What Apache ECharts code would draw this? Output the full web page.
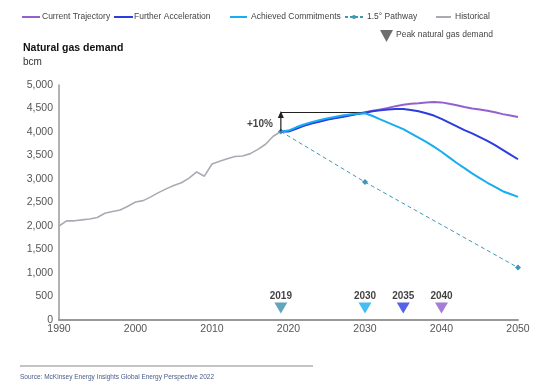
<!DOCTYPE html>
<html><head><meta charset="utf-8">
<script src="https://cdn.jsdelivr.net/npm/echarts@6/dist/echarts.min.js"></script>
<style>html,body{margin:0;padding:0;background:#fff}#c{width:560px;height:385px}</style>
</head><body><div id="c"></div>
<script>
const histYears = [1990,1991,1992,1993,1994,1995,1996,1997,1998,1999,2000,2001,2002,2003,2004,2005,2006,2007,2008,2009,2010,2011,2012,2013,2014,2015,2016,2017,2018,2019];
const historical = [2000,2110,2110,2130,2150,2180,2270,2310,2340,2420,2510,2540,2620,2710,2790,2860,2920,3020,3150,3060,3320,3380,3430,3480,3490,3540,3630,3740,3910,4010];
const projYears = [2019,2020,2021,2022,2023,2024,2025,2026,2027,2028,2029,2030,2031,2032,2033,2034,2035,2036,2037,2038,2039,2040,2041,2042,2043,2044,2045,2046,2047,2048,2049,2050];
const currentTrajectory = [4010,4020,4080,4140,4190,4230,4270,4300,4330,4360,4390,4420,4450,4480,4510,4550,4580,4600,4610,4630,4640,4630,4600,4570,4530,4500,4480,4450,4420,4380,4350,4320];
const furtherAcceleration = [4010,4010,4070,4130,4180,4220,4260,4290,4320,4350,4380,4410,4440,4460,4480,4490,4490,4470,4440,4400,4350,4280,4200,4120,4040,3970,3890,3810,3720,3620,3520,3420];
const achievedCommitments = [4010,4030,4100,4160,4210,4250,4290,4320,4350,4370,4390,4400,4340,4270,4200,4130,4060,3970,3880,3790,3690,3580,3460,3340,3230,3120,3020,2920,2830,2740,2680,2620];
const pathwayYears = [2019,2030,2050];
const pathway = [4010,2935,1115];
const peakYears = [2019,2030,2035,2040];
const peakLabels = ['2019','2030','2035','2040'];
const peakLevel = 255;
const colors = {cur:'#9460d0', fa:'#2b3de0', ac:'#17adf0', pw:'#3d98b8', hist:'#a8acb2'};
const peakColors = ['#3a8fad','#17adf0','#2b3de0','#8f5ccc'];

const zip = (xs, ys) => xs.map((x,i)=>[x,ys[i]]);
const chart = echarts.init(document.getElementById('c'));
const FF = '"Liberation Sans", Arial, sans-serif';

function legLine(x, y, w, color, dashed) {
  return {type:'line', shape:{x1:x,y1:y,x2:x+w,y2:y}, style:{stroke:color, lineWidth:2, lineDash: dashed?[3,2]:null}};
}
function legText(x, y, t) {
  return {type:'text', x:x, y:y, style:{text:t, fill:'#444', font:'8.5px '+FF, textVerticalAlign:'middle'}};
}

chart.setOption({
  animation:false,
  textStyle:{fontFamily:FF},
  grid:{left:59, right:42, top:85, bottom:65},
  xAxis:{type:'value', min:1990, max:2050, interval:10,
    axisLine:{lineStyle:{color:'#999', width:2}}, axisTick:{show:false}, splitLine:{show:false},
    axisLabel:{color:'#555', fontSize:10.5, margin:4, formatter:v=>String(v)}},
  yAxis:{type:'value', min:0, max:5000, interval:500,
    axisLine:{show:true, lineStyle:{color:'#999', width:1.5}}, axisTick:{show:false}, splitLine:{show:false},
    axisLabel:{color:'#555', fontSize:10.5, margin:6, formatter:v=>v.toLocaleString('en-US')}},
  graphic:[
    legLine(22,17,18,colors.cur), legText(42,17,'Current Trajectory'),
    legLine(114,17,19,colors.fa), legText(134,17,'Further Acceleration'),
    legLine(230,17,17,colors.ac), legText(251,17,'Achieved Commitments'),
    legLine(345,17,18,colors.pw,true), {type:'circle', shape:{cx:354,cy:17,r:2}, style:{fill:colors.pw}}, legText(367,17,'1.5° Pathway'),
    legLine(436,17,15,colors.hist), legText(455,17,'Historical'),
    {type:'polygon', shape:{points:[[380,30],[393,30],[386.5,42]]}, style:{fill:'#6e6e6e'}},
    legText(396,35,'Peak natural gas demand'),
    {type:'text', x:23, y:48, style:{text:'Natural gas demand', fill:'#111', font:'bold 10.5px '+FF, textVerticalAlign:'middle'}},
    {type:'text', x:23, y:62, style:{text:'bcm', fill:'#333', font:'10px '+FF, textVerticalAlign:'middle'}},
    {type:'line', shape:{x1:20,y1:366,x2:313,y2:366}, style:{stroke:'#888', lineWidth:1}},
    {type:'text', x:20, y:377, style:{text:'Source: McKinsey Energy Insights Global Energy Perspective 2022', fill:'#4a5a8a', font:'6.5px '+FF, textVerticalAlign:'middle'}}
  ],
  series:[
    {name:'Historical', type:'line', data:zip(histYears, historical), showSymbol:false, lineStyle:{color:colors.hist, width:1.6}, z:2},
    {name:'1.5° Pathway', type:'line', data:zip(pathwayYears, pathway), symbol:'diamond', symbolSize:6,
      showSymbol:true, itemStyle:{color:colors.pw}, lineStyle:{color:colors.pw, width:1, type:[4,3]}, z:2},
    {name:'Current Trajectory', type:'line', data:zip(projYears, currentTrajectory), showSymbol:false, lineStyle:{color:colors.cur, width:2}, z:3},
    {name:'Further Acceleration', type:'line', data:zip(projYears, furtherAcceleration), showSymbol:false, lineStyle:{color:colors.fa, width:2}, z:4},
    {name:'Achieved Commitments', type:'line', data:zip(projYears, achievedCommitments), showSymbol:false, lineStyle:{color:colors.ac, width:2}, z:5,
      markLine:{silent:true, symbol:['none','none'], label:{show:false},
        lineStyle:{color:'#222', width:1.2, type:'solid'},
        data:[[{coord:[2019,4410]},{coord:[2029.7,4410]}]]}},
    {name:'arrow', type:'line', data:[[2019,4010],[2019,4400]], showSymbol:false, lineStyle:{color:'#222', width:1.2}, z:6,
      markPoint:{symbol:'triangle', symbolSize:[6,7], itemStyle:{color:'#222'}, label:{show:false}, data:[{coord:[2019,4370]}]}},
    {name:'label10', type:'scatter', data:[[2019,4170]], symbolSize:0,
      label:{show:true, position:'left', distance:8, formatter:'+10%', color:'#111', fontWeight:'bold', fontSize:10}},
    {name:'peaks', type:'scatter', data:peakYears.map((y,i)=>({value:[y,peakLevel], itemStyle:{color:peakColors[i]}, label:{formatter:peakLabels[i]}})),
      symbol:'triangle', symbolRotate:180, symbolSize:[13,11],
      label:{show:true, position:'top', distance:1, color:'#111', fontWeight:'bold', fontSize:10}}
  ]
});
</script></body></html>
